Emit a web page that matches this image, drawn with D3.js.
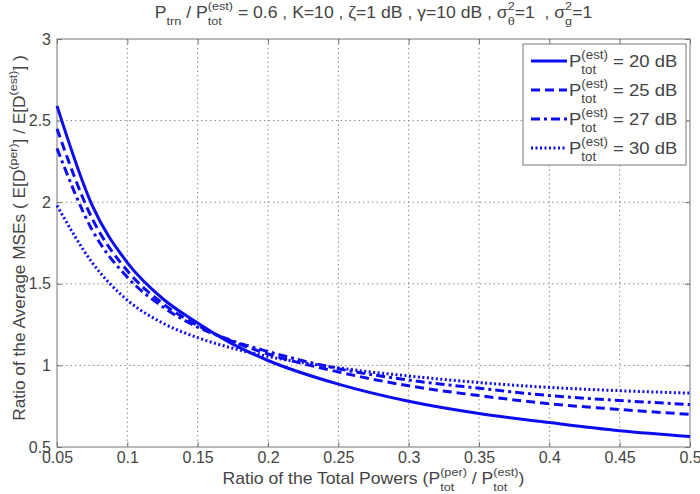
<!DOCTYPE html>
<html>
<head>
<meta charset="utf-8">
<script src="https://cdn.jsdelivr.net/npm/d3@7"></script>
<style>
  body { margin: 0; background: #fff; }
  text { font-family: "Liberation Sans", Arial, sans-serif; fill: #444; }
</style>
</head>
<body>
<div id="chart"></div>
<script>
// x values (ratio of the total powers)
const xVals = [0.05, 0.075, 0.1, 0.125, 0.15, 0.175, 0.2, 0.25, 0.3, 0.35, 0.4, 0.45, 0.5];
// ratio of average MSEs, one array per P_tot^(est)
const s20 = [2.59, 1.98, 1.63, 1.41, 1.26, 1.13, 1.03, 0.885, 0.78, 0.705, 0.65, 0.60, 0.565];
const s25 = [2.45, 1.90, 1.58, 1.38, 1.245, 1.145, 1.07, 0.96, 0.875, 0.815, 0.765, 0.73, 0.70];
const s27 = [2.33, 1.83, 1.54, 1.36, 1.235, 1.15, 1.085, 0.98, 0.91, 0.86, 0.815, 0.785, 0.76];
const s30 = [1.98, 1.63, 1.40, 1.26, 1.17, 1.105, 1.055, 0.985, 0.935, 0.895, 0.865, 0.845, 0.83];
const seriesNames = ["20 dB", "25 dB", "27 dB", "30 dB"];
const xTicks = [0.05, 0.1, 0.15, 0.2, 0.25, 0.3, 0.35, 0.4, 0.45, 0.5];
const yTicks = [0.5, 1, 1.5, 2, 2.5, 3];

const W = 700, H = 494;
const margin = {left: 57, top: 39, right: 10, bottom: 47};
const iw = W - margin.left - margin.right, ih = H - margin.top - margin.bottom;

const svg = d3.select("#chart").append("svg").attr("width", W).attr("height", H);
const g = svg.append("g").attr("transform", `translate(${margin.left},${margin.top})`);

const x = d3.scaleLinear().domain([0.05, 0.5]).range([0, iw]);
const y = d3.scaleLinear().domain([0.5, 3]).range([ih, 0]);

// grid
g.selectAll(".vg").data(xTicks.slice(1, -1)).enter().append("line")
  .attr("x1", d => x(d)).attr("x2", d => x(d)).attr("y1", 0).attr("y2", ih)
  .attr("stroke", "#8a8a8a").attr("stroke-width", 1).attr("stroke-dasharray", "1.5,3");
g.selectAll(".hg").data(yTicks.slice(1, -1)).enter().append("line")
  .attr("y1", d => y(d)).attr("y2", d => y(d)).attr("x1", 0).attr("x2", iw)
  .attr("stroke", "#8a8a8a").attr("stroke-width", 1).attr("stroke-dasharray", "1.5,3");

// axes (ticks inward, on all four sides)
const axisStyle = sel => {
  sel.select(".domain").remove();
  sel.selectAll("line").attr("stroke", "#777");
  sel.selectAll("text").style("font-size", "16px").attr("fill", "#444");
};
g.append("g").attr("transform", `translate(0,${ih})`)
  .call(d3.axisBottom(x).tickValues(xTicks).tickFormat(d3.format("")).tickSizeInner(-5).tickPadding(5))
  .call(axisStyle);
g.append("g")
  .call(d3.axisLeft(y).tickValues(yTicks).tickFormat(d3.format("")).tickSizeInner(-5).tickPadding(6))
  .call(axisStyle);
g.append("g").call(d3.axisTop(x).tickValues(xTicks).tickFormat("").tickSizeInner(-5)).call(axisStyle);
g.append("g").attr("transform", `translate(${iw},0)`)
  .call(d3.axisRight(y).tickValues(yTicks).tickFormat("").tickSizeInner(-5)).call(axisStyle);
g.append("rect").attr("width", iw).attr("height", ih).attr("fill", "none").attr("stroke", "#777");

// curves
const blue = "#0c0cf0";
const dashes = [null, "9,5", "9,4,3,4", "2,2.5"];
const allSeries = [s20, s25, s27, s30];
const line = d3.line().x((d, i) => x(xVals[i])).y(d => y(d)).curve(d3.curveMonotoneX);
allSeries.forEach((s, k) => {
  g.append("path").datum(s).attr("d", line).attr("fill", "none")
    .attr("stroke", blue).attr("stroke-width", 3)
    .attr("stroke-dasharray", dashes[k]);
});

// rich text helper: parts are strings or {sup, sub}; sx stretches horizontally
function rich(parent, parts, fs, anchor, sx) {
  const grp = parent.append("g").attr("transform", `scale(${sx},1)`);
  let cx = 0;
  parts.forEach(p => {
    if (typeof p === "string") {
      const t = grp.append("text").attr("x", cx).attr("y", 0).style("font-size", fs + "px")
        .style("white-space", "pre").text(p);
      cx += t.node().getComputedTextLength();
    } else {
      let w = 0;
      if (p.sup) {
        const t = grp.append("text").attr("x", cx).attr("y", -fs * 0.5).style("font-size", fs * 0.72 + "px").text(p.sup);
        w = Math.max(w, t.node().getComputedTextLength());
      }
      if (p.sub) {
        const t = grp.append("text").attr("x", cx).attr("y", fs * 0.45).style("font-size", fs * 0.72 + "px").text(p.sub);
        w = Math.max(w, t.node().getComputedTextLength());
      }
      cx += w;
    }
  });
  const off = anchor === "middle" ? -cx / 2 : anchor === "end" ? -cx : 0;
  grp.selectAll("text").attr("x", function() { return +d3.select(this).attr("x") + off; });
  return grp;
}

// title
rich(svg.append("g").attr("transform", `translate(${margin.left + iw / 2},18)`),
  ["P", {sub: "trn"}, " / P", {sup: "(est)", sub: "tot"},
   " = 0.6 , K=10 , ζ=1 dB , γ=10 dB , σ", {sup: "2", sub: "θ"}, "=1  , σ", {sup: "2", sub: "g"}, "=1"],
  16, "middle", 1.1);

// x label
rich(svg.append("g").attr("transform", `translate(${margin.left + iw / 2},484)`),
  ["Ratio of the Total Powers (P", {sup: "(per)", sub: "tot"}, " / P", {sup: "(est)", sub: "tot"}, ")"],
  16, "middle", 1.1);

// y label
rich(svg.append("g").attr("transform", `translate(25,238) rotate(-90)`),
  ["Ratio of the Average MSEs ( E[D", {sup: "(per)"}, "] / E[D", {sup: "(est)"}, "] )"],
  16, "middle", 1.08);

// legend
const lg = svg.append("g").attr("transform", "translate(523,44)");
lg.append("rect").attr("width", 163).attr("height", 121).attr("fill", "#fff").attr("stroke", "#777");
seriesNames.forEach((n, k) => {
  const ry = 17 + k * 29;
  lg.append("line").attr("x1", 8).attr("x2", 44).attr("y1", ry).attr("y2", ry)
    .attr("stroke", blue).attr("stroke-width", 3).attr("stroke-dasharray", dashes[k]);
  rich(lg.append("g").attr("transform", `translate(46,${ry + 6})`),
    ["P", {sup: "(est)", sub: "tot"}, " = " + n], 16.5, "start", 1.12);
});
</script>
</body>
</html>
